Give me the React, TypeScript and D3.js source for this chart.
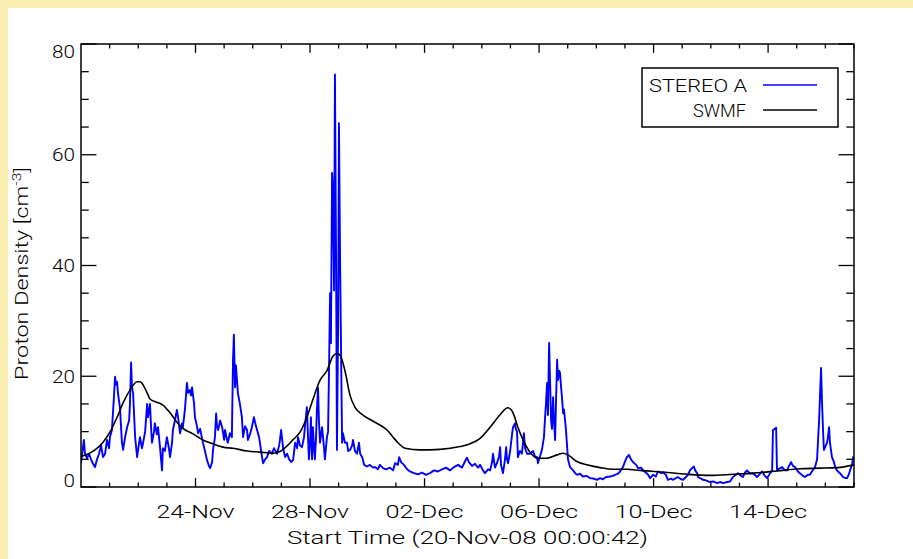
import React from 'react';
import * as d3 from 'd3';

// Time axis origin: 20-Nov-2008 00:00:42 UT, spanning 27 days
const START_MS = Date.UTC(2008, 10, 20, 0, 0, 42);
const DAY_MS = 86400000;
const SPAN_DAYS = 27;

const Y_MAX = 80;
const yMajorTicks = [0, 20, 40, 60, 80];
const yMinorStep = 5;

const X_TITLE = 'Start Time (20-Nov-08 00:00:42)';
const Y_TITLE = 'Proton Density';
const SERIES_NAMES = ['STEREO A', 'SWMF'];

// STEREO A observed proton density: [days since start, cm^-3]
const stereoA: [number, number][] = [
  [0.00,4.3],[0.03,5.5],[0.10,8.5],[0.14,6.0],[0.21,5.2],[0.28,6.0],[0.35,5.0],[0.42,4.2],[0.49,3.6],[0.56,5.0],
  [0.63,6.0],[0.70,7.5],[0.77,5.4],[0.84,6.0],[0.91,8.5],[0.98,7.0],[1.01,9.0],[1.08,10.3],[1.15,16.2],[1.19,19.9],
  [1.22,18.5],[1.26,19.0],[1.29,17.0],[1.36,14.4],[1.43,8.0],[1.47,6.7],[1.54,9.0],[1.61,10.8],[1.68,12.0],[1.71,15.0],
  [1.75,22.5],[1.78,18.0],[1.82,17.0],[1.89,9.0],[1.96,5.4],[2.03,8.0],[2.06,9.0],[2.13,7.0],[2.17,8.0],[2.24,10.0],
  [2.31,15.0],[2.34,12.6],[2.41,15.0],[2.45,10.5],[2.48,8.0],[2.55,10.0],[2.58,11.5],[2.65,9.5],[2.69,10.8],[2.76,7.2],
  [2.83,3.0],[2.86,7.0],[2.93,6.5],[3.00,9.0],[3.07,7.0],[3.11,5.4],[3.18,8.0],[3.21,10.3],[3.28,12.0],[3.35,13.9],
  [3.39,12.6],[3.46,9.7],[3.53,11.5],[3.56,10.8],[3.63,14.0],[3.70,18.8],[3.74,17.0],[3.81,17.5],[3.84,16.5],[3.88,18.0],
  [3.95,15.0],[3.98,12.6],[4.05,11.0],[4.09,9.7],[4.16,10.5],[4.26,8.0],[4.33,6.5],[4.40,4.9],[4.47,3.8],[4.51,3.4],
  [4.58,4.5],[4.61,6.7],[4.68,9.0],[4.72,13.3],[4.75,11.0],[4.79,10.3],[4.86,12.0],[4.93,10.8],[5.00,8.5],[5.03,10.3],
  [5.10,8.5],[5.13,8.0],[5.20,9.7],[5.27,9.0],[5.31,23.0],[5.34,27.5],[5.38,18.0],[5.41,22.0],[5.48,17.0],[5.55,15.0],
  [5.62,12.6],[5.66,9.0],[5.73,11.0],[5.80,10.3],[5.83,8.5],[5.90,9.5],[5.97,10.8],[6.04,12.6],[6.11,11.0],[6.15,10.3],
  [6.22,9.0],[6.25,8.0],[6.32,5.5],[6.36,4.3],[6.43,5.0],[6.50,5.4],[6.57,6.5],[6.67,6.0],[6.74,7.0],[6.85,6.0],
  [6.92,7.5],[6.95,8.5],[6.99,10.3],[7.06,7.0],[7.13,5.4],[7.20,6.0],[7.27,5.0],[7.34,4.5],[7.41,4.9],[7.48,8.0],
  [7.55,7.0],[7.58,9.0],[7.65,7.5],[7.72,7.2],[7.79,9.0],[7.82,10.8],[7.89,14.4],[7.93,9.0],[7.96,5.0],[8.00,8.0],
  [8.03,12.6],[8.07,5.0],[8.10,10.8],[8.14,7.0],[8.17,5.0],[8.21,9.0],[8.24,14.0],[8.28,17.9],[8.31,12.0],[8.35,8.0],
  [8.42,10.8],[8.49,7.0],[8.52,5.0],[8.59,9.0],[8.63,10.0],[8.66,20.0],[8.70,35.0],[8.73,26.0],[8.77,56.7],[8.80,54.0],
  [8.84,35.5],[8.87,74.5],[8.91,41.0],[8.94,6.7],[8.98,28.9],[9.01,65.7],[9.05,41.0],[9.08,26.0],[9.12,8.0],[9.15,9.7],
  [9.22,8.0],[9.29,8.0],[9.33,6.5],[9.40,6.7],[9.47,7.5],[9.50,8.5],[9.57,6.5],[9.64,6.0],[9.71,8.0],[9.75,6.0],
  [9.82,5.4],[9.89,4.0],[9.99,3.7],[10.09,4.0],[10.20,3.5],[10.27,3.6],[10.37,3.2],[10.44,4.0],[10.55,3.4],[10.65,3.2],
  [10.79,3.5],[10.90,3.0],[10.97,4.3],[11.07,4.0],[11.11,5.4],[11.18,4.5],[11.28,4.0],[11.39,3.2],[11.49,2.8],[11.63,2.5],
  [11.77,2.3],[11.91,2.6],[12.05,2.2],[12.19,2.5],[12.33,3.0],[12.47,2.8],[12.61,3.2],[12.75,3.5],[12.89,3.0],[13.03,3.6],
  [13.17,4.0],[13.31,3.5],[13.41,4.6],[13.48,5.3],[13.55,4.5],[13.66,3.8],[13.76,4.2],[13.87,3.5],[13.94,4.0],[14.04,3.0],
  [14.11,2.5],[14.22,3.2],[14.29,3.0],[14.36,4.5],[14.39,6.0],[14.46,3.5],[14.53,4.3],[14.60,5.5],[14.64,7.2],[14.67,4.0],
  [14.74,2.5],[14.81,5.0],[14.85,7.2],[14.88,5.0],[14.92,4.3],[14.99,6.5],[15.06,9.7],[15.09,10.8],[15.16,11.5],[15.19,10.5],
  [15.23,10.0],[15.26,5.4],[15.33,6.5],[15.40,6.0],[15.47,9.7],[15.51,7.0],[15.58,6.0],[15.68,6.0],[15.79,6.5],[15.86,5.5],
  [15.93,5.4],[15.96,4.3],[16.03,5.5],[16.10,6.7],[16.17,9.0],[16.21,12.6],[16.24,15.0],[16.28,18.8],[16.31,13.0],[16.35,26.0],
  [16.38,20.0],[16.42,12.0],[16.45,10.5],[16.49,16.2],[16.52,12.0],[16.56,8.5],[16.59,15.0],[16.63,23.0],[16.66,19.3],[16.70,21.0],
  [16.73,20.6],[16.77,18.0],[16.80,16.2],[16.84,13.3],[16.87,14.0],[16.94,10.3],[16.98,7.2],[17.01,5.0],[17.08,3.6],[17.19,3.0],
  [17.26,2.5],[17.33,2.2],[17.43,2.4],[17.53,1.9],[17.67,2.0],[17.78,1.6],[17.92,1.5],[18.02,1.3],[18.13,1.6],[18.23,1.4],
  [18.34,1.8],[18.48,1.9],[18.58,2.0],[18.65,2.2],[18.76,2.4],[18.83,2.8],[18.93,3.6],[19.00,4.6],[19.07,5.4],[19.14,5.8],
  [19.21,5.0],[19.28,4.5],[19.39,4.0],[19.46,3.4],[19.56,3.5],[19.63,3.0],[19.74,2.6],[19.81,2.2],[19.88,1.6],[19.98,2.2],
  [20.08,1.9],[20.15,2.8],[20.26,2.5],[20.33,2.6],[20.43,2.2],[20.50,1.3],[20.61,1.5],[20.68,1.3],[20.78,1.6],[20.85,1.8],
  [20.96,1.4],[21.03,1.3],[21.13,1.8],[21.20,2.2],[21.27,3.0],[21.34,3.4],[21.41,3.7],[21.45,3.0],[21.52,2.5],[21.55,1.8],
  [21.66,1.5],[21.73,1.3],[21.83,1.2],[21.97,0.9],[22.08,1.0],[22.22,0.7],[22.32,0.9],[22.43,0.7],[22.57,0.9],[22.67,1.0],
  [22.77,1.8],[22.88,2.2],[22.95,2.5],[23.05,2.0],[23.12,1.8],[23.19,2.6],[23.26,3.0],[23.37,2.4],[23.44,2.5],[23.54,2.2],
  [23.61,1.8],[23.72,2.4],[23.79,2.8],[23.89,2.0],[23.96,1.6],[24.07,2.5],[24.14,3.0],[24.17,10.3],[24.24,10.5],[24.28,10.7],
  [24.31,3.0],[24.38,3.3],[24.49,3.6],[24.59,3.0],[24.66,3.0],[24.73,3.8],[24.80,4.5],[24.87,3.8],[24.94,3.6],[25.04,2.8],
  [25.11,2.5],[25.22,2.0],[25.29,1.8],[25.39,2.2],[25.46,2.2],[25.53,2.8],[25.64,3.6],[25.71,5.0],[25.74,8.0],[25.78,12.0],
  [25.81,16.0],[25.85,21.5],[25.88,15.7],[25.92,10.0],[25.95,6.7],[26.02,7.5],[26.06,8.0],[26.09,9.0],[26.13,10.8],[26.16,8.0],
  [26.23,5.4],[26.30,4.5],[26.34,3.6],[26.41,3.0],[26.44,2.8],[26.51,2.5],[26.62,1.8],[26.69,1.6],[26.76,1.6],[26.83,2.4],
  [26.86,3.0],[26.93,4.0],[26.97,5.4],[27.00,5.6],
];

// SWMF model proton density: [days since start, cm^-3]
const swmf: [number, number][] = [
  [0,5.5],[0.49,6.7],[0.77,8.1],[1.01,9.9],[1.26,12.6],[1.47,15.2],[1.71,17.5],[1.96,19.0],[2.06,19.0],[2.31,17.0],
  [2.41,15.9],[2.65,15.3],[2.86,14.8],[3.11,13.4],[3.35,11.7],[3.56,10.6],[3.91,9.6],[4.26,8.5],[4.61,7.8],[4.96,7.2],
  [5.31,7.0],[5.80,6.5],[6.25,6.3],[6.71,6.1],[6.95,6.4],[7.40,8.5],[7.65,9.9],[7.89,12.6],[8.10,15.8],[8.35,19.3],
  [8.59,21.0],[8.80,23.6],[8.94,24.1],[9.05,23.8],[9.22,21.0],[9.40,16.5],[9.57,14.4],[9.85,13.0],[10.16,12.0],[10.44,11.2],
  [10.69,10.3],[10.90,9.0],[11.07,8.0],[11.32,7.0],[11.84,6.7],[12.54,6.8],[13.24,7.3],[13.59,7.8],[13.94,8.8],[14.29,10.8],
  [14.63,13.0],[14.91,14.3],[15.09,13.4],[15.26,10.8],[15.44,8.5],[15.68,6.3],[15.93,5.2],[16.28,5.2],[16.63,5.8],[16.84,6.1],
  [17.01,5.8],[17.32,4.6],[17.67,4.0],[18.13,3.5],[18.58,3.2],[19.07,3.2],[19.53,3.0],[20.33,2.7],[21.17,2.3],[21.97,2.1],
  [22.77,2.3],[23.47,2.5],[24.31,2.9],[25.11,3.3],[25.81,3.4],[26.41,3.5],[27.0,4.0],
];

const FONT = 'Roboto, "Liberation Sans", Arial, sans-serif';
const FONT_WEIGHT = 300;
const BLUE = '#0000ff';

export default function App() {
  const W = 913;
  const H = 559;
  const box = { left: 81, right: 854, top: 44, bottom: 487 };

  const t0 = new Date(START_MS);
  const t1 = new Date(START_MS + SPAN_DAYS * DAY_MS);
  const x = d3.scaleUtc().domain([t0, t1]).range([box.left, box.right]);
  const y = d3.scaleLinear().domain([0, Y_MAX]).range([box.bottom, box.top]);
  const toDate = (d: number) => new Date(START_MS + d * DAY_MS);

  const line = d3
    .line<[number, number]>()
    .x((d) => x(toDate(d[0])))
    .y((d) => y(d[1]));
  const smooth = d3
    .line<[number, number]>()
    .x((d) => x(toDate(d[0])))
    .y((d) => y(d[1]))
    .curve(d3.curveMonotoneX);

  // IDL-style tick lengths: 2% of the plot size, minors half
  const plotW = box.right - box.left;
  const plotH = box.bottom - box.top;
  const yMajLen = 0.02 * plotW;
  const xMajLen = 0.02 * plotH;

  const dayTicks = d3.utcDay.range(d3.utcDay.ceil(t0), t1);
  const originDay = d3.utcDay.floor(t0);
  const fmt = d3.utcFormat('%d-%b');
  const xTicks = dayTicks.map((d) => ({
    pos: x(d),
    major: d3.utcDay.count(originDay, d) % 4 === 0,
    label: fmt(d),
  }));

  const yMinor = d3.range(0, Y_MAX + 0.001, yMinorStep).filter((v) => !yMajorTicks.includes(v));

  const textProps = { fontFamily: FONT, fontWeight: FONT_WEIGHT, fontSize: 18, fill: '#000' } as const;

  return (
    <div style={{ position: 'absolute', left: 0, top: 0, width: W, height: H }}>
      <svg width={W} height={H} style={{ display: 'block' }}>
        <rect x={0} y={0} width={W} height={H} fill="#fbefb2" />
        <rect x={8} y={8} width={W - 8} height={H - 8} fill="#ffffff" />

        <defs>
          <clipPath id="plotClip">
            <rect x={box.left} y={box.top} width={plotW} height={plotH} />
          </clipPath>
        </defs>

        <g clipPath="url(#plotClip)">
          <path d={line(stereoA) || ''} fill="none" stroke={BLUE} strokeWidth={1.9} strokeLinejoin="round" />
          <path d={smooth(swmf) || ''} fill="none" stroke="#000" strokeWidth={1.6} />
        </g>

        {/* frame */}
        <rect x={box.left} y={box.top} width={plotW} height={plotH} fill="none" stroke="#000" strokeWidth={1.5} />

        {/* x ticks, bottom and top */}
        {xTicks.map((t, i) => {
          const len = t.major ? xMajLen : xMajLen / 2;
          return (
            <g key={'xt' + i}>
              <line x1={t.pos} x2={t.pos} y1={box.bottom} y2={box.bottom - len} stroke="#000" strokeWidth={1.3} />
              <line x1={t.pos} x2={t.pos} y1={box.top} y2={box.top + len} stroke="#000" strokeWidth={1.3} />
              {t.major && (
                <text
                  x={t.pos}
                  y={517.5}
                  textAnchor="middle"
                  {...textProps}
                  textLength={78}
                  lengthAdjust="spacingAndGlyphs"
                >
                  {t.label}
                </text>
              )}
            </g>
          );
        })}

        {/* y ticks, left and right */}
        {yMajorTicks.map((v) => {
          const py = y(v);
          const shift = v === Y_MAX ? 7.5 : v === 0 ? -6.5 : 0;
          return (
            <g key={'ym' + v}>
              <line x1={box.left} x2={box.left + yMajLen} y1={py} y2={py} stroke="#000" strokeWidth={1.3} />
              <line x1={box.right} x2={box.right - yMajLen} y1={py} y2={py} stroke="#000" strokeWidth={1.3} />
              <text
                x={75}
                y={py + shift + 6.5}
                textAnchor="end"
                {...textProps}
                textLength={String(v).length * 11.5}
                lengthAdjust="spacingAndGlyphs"
              >
                {v}
              </text>
            </g>
          );
        })}
        {yMinor.map((v) => {
          const py = y(v);
          return (
            <g key={'yn' + v}>
              <line x1={box.left} x2={box.left + yMajLen / 2} y1={py} y2={py} stroke="#000" strokeWidth={1.3} />
              <line x1={box.right} x2={box.right - yMajLen / 2} y1={py} y2={py} stroke="#000" strokeWidth={1.3} />
            </g>
          );
        })}

        {/* axis titles */}
        <text
          x={(box.left + box.right) / 2}
          y={544}
          textAnchor="middle"
          {...textProps}
          textLength={361}
          lengthAdjust="spacingAndGlyphs"
        >
          {X_TITLE}
        </text>
        <text
          transform={`translate(28, ${(box.top + box.bottom) / 2 + 8}) rotate(-90) scale(1.3, 1)`}
          textAnchor="middle"
          {...textProps}
        >
          {Y_TITLE + ' [cm'}
          <tspan fontSize={12} dy={-7}>-3</tspan>
          <tspan dy={7}>]</tspan>
        </text>

        {/* legend */}
        <g>
          <rect x={642} y={68} width={196} height={59} fill="#fff" stroke="#000" strokeWidth={1.5} />
          <text x={747} y={91.5} textAnchor="end" {...textProps} textLength={98} lengthAdjust="spacingAndGlyphs">
            {SERIES_NAMES[0]}
          </text>
          <line x1={763} x2={817} y1={85} y2={85} stroke={BLUE} strokeWidth={1.3} />
          <text x={746} y={116.5} textAnchor="end" {...textProps} textLength={53} lengthAdjust="spacingAndGlyphs">
            {SERIES_NAMES[1]}
          </text>
          <line x1={763} x2={817} y1={110} y2={110} stroke="#000" strokeWidth={1.3} />
        </g>
      </svg>
    </div>
  );
}
